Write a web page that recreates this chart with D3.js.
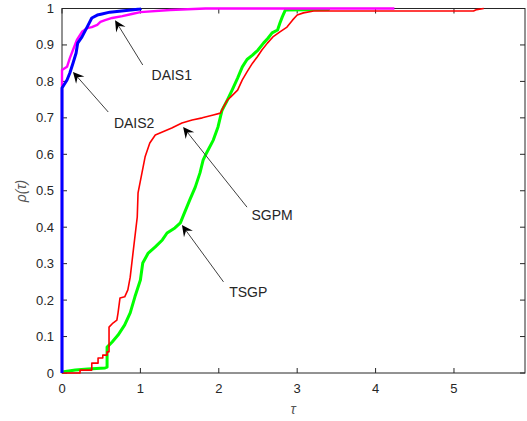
<!DOCTYPE html>
<html>
<head>
<meta charset="utf-8">
<script src="https://cdn.jsdelivr.net/npm/d3@7"></script>
<style>
  body { margin: 0; background: #fff; }
  text { font-family: "Liberation Sans", Arial, Helvetica, sans-serif; }
</style>
</head>
<body>
<svg id="chart" width="527" height="421"></svg>
<script>
// performance profiles, [tau, rho]
var dais1 = [[0,0],[0,0.831],[0.064,0.840],[0.10,0.864],[0.14,0.886],[0.19,0.914],[0.255,0.936],[0.32,0.946],[0.38,0.949],[0.45,0.955],[0.49,0.963],[0.55,0.968],[0.64,0.974],[0.77,0.979],[0.89,0.985],[1.0,0.990],[1.38,0.996],[1.83,1.0],[4.24,1.0]];
var dais2 = [[0,0],[0,0.782],[0.064,0.804],[0.10,0.823],[0.14,0.850],[0.18,0.878],[0.20,0.905],[0.255,0.922],[0.32,0.949],[0.38,0.974],[0.45,0.982],[0.51,0.985],[0.61,0.990],[1.0,0.9986],[1.01,1.0]];
var sgpm = [[0,0],[0.23,0],[0.23,0.008],[0.38,0.008],[0.38,0.027],[0.46,0.027],[0.46,0.041],[0.52,0.041],[0.52,0.049],[0.575,0.049],[0.575,0.058],[0.60,0.058],[0.60,0.126],[0.65,0.137],[0.70,0.145],[0.715,0.165],[0.74,0.206],[0.80,0.209],[0.84,0.228],[0.87,0.263],[0.91,0.337],[0.96,0.428],[0.97,0.494],[1.02,0.549],[1.06,0.593],[1.12,0.631],[1.19,0.653],[1.28,0.661],[1.40,0.672],[1.53,0.686],[1.66,0.694],[1.79,0.70],[1.93,0.708],[2.02,0.713],[2.06,0.73],[2.11,0.749],[2.15,0.757],[2.24,0.776],[2.30,0.804],[2.36,0.826],[2.43,0.85],[2.49,0.867],[2.55,0.886],[2.62,0.905],[2.69,0.922],[2.78,0.936],[2.87,0.949],[2.94,0.968],[3.00,0.982],[3.08,0.988],[3.21,0.993],[5.25,0.993],[5.29,0.997],[5.38,1.0]];
var tsgp = [[0,0.003],[0.17,0.008],[0.33,0.011],[0.55,0.014],[0.575,0.016],[0.575,0.071],[0.64,0.085],[0.715,0.104],[0.80,0.132],[0.87,0.165],[0.93,0.209],[1.0,0.255],[1.03,0.302],[1.10,0.329],[1.19,0.346],[1.28,0.365],[1.34,0.384],[1.44,0.398],[1.51,0.412],[1.55,0.433],[1.63,0.475],[1.70,0.51],[1.76,0.549],[1.80,0.584],[1.83,0.598],[1.93,0.639],[1.99,0.675],[2.04,0.72],[2.11,0.749],[2.17,0.776],[2.24,0.809],[2.30,0.84],[2.36,0.86],[2.43,0.872],[2.50,0.886],[2.57,0.905],[2.63,0.919],[2.68,0.933],[2.75,0.941],[2.78,0.96],[2.81,0.977],[2.85,0.996],[3.40,0.997],[3.40,1.0]];

var xTicks = [0, 1, 2, 3, 4, 5];
var yTicks = [0, 0.1, 0.2, 0.3, 0.4, 0.5, 0.6, 0.7, 0.8, 0.9, 1];

// annotation arrows: label, tip, tail, text position (data units)
var notes = [
  {label: "DAIS1", tip: [0.677, 0.968], tail: [1.03, 0.845], at: [1.40, 0.818]},
  {label: "DAIS2", tip: [0.14, 0.826], tail: [0.59, 0.716], at: [0.92, 0.686]},
  {label: "SGPM", tip: [1.545, 0.675], tail: [2.36, 0.455], at: [2.68, 0.433]},
  {label: "TSGP", tip: [1.53, 0.406], tail: [2.06, 0.25], at: [2.375, 0.222]}
];

var svg = d3.select("#chart");
var x = d3.scaleLinear().domain([0, 5.906]).range([62, 525]);
var y = d3.scaleLinear().domain([0, 1]).range([373, 8.5]);
var axisCol = "#262626";

// axes box
var g = svg.append("g");
g.append("rect").attr("x", x(0)).attr("y", y(1)).attr("width", x(5.906) - x(0)).attr("height", y(0) - y(1))
  .style("fill", "none").style("stroke", axisCol).style("stroke-width", 1);

// x ticks (bottom + top, inward)
xTicks.forEach(function(t){
  g.append("line").attr("x1", x(t)).attr("x2", x(t)).attr("y1", y(0)).attr("y2", y(0) - 5).style("stroke", axisCol);
  g.append("line").attr("x1", x(t)).attr("x2", x(t)).attr("y1", y(1)).attr("y2", y(1) + 5).style("stroke", axisCol);
  g.append("text").attr("x", x(t)).attr("y", y(0) + 20).attr("text-anchor", "middle")
    .style("font-size", "13px").style("fill", axisCol).text(t);
});
yTicks.forEach(function(t){
  g.append("line").attr("x1", x(0)).attr("x2", x(0) + 5).attr("y1", y(t)).attr("y2", y(t)).style("stroke", axisCol);
  g.append("line").attr("x1", x(5.906)).attr("x2", x(5.906) - 5).attr("y1", y(t)).attr("y2", y(t)).style("stroke", axisCol);
  g.append("text").attr("x", x(0) - 8).attr("y", y(t) + 4.5).attr("text-anchor", "end")
    .style("font-size", "13px").style("fill", axisCol).text(d3.format("~g")(t));
});

// axis labels
g.append("text").attr("x", 293).attr("y", 414).attr("text-anchor", "middle")
  .style("font-size", "14px").style("font-style", "italic").style("fill", "#555").text("τ");
g.append("text").attr("transform", "translate(26,191) rotate(-90)").attr("text-anchor", "middle")
  .style("font-size", "14px").style("font-style", "italic").style("fill", "#555").text("ρ(τ)");

// curves
var line = d3.line().x(function(d){ return x(d[0]); }).y(function(d){ return y(d[1]); });
var series = [
  {data: tsgp, color: "#00ff00", w: 3},
  {data: sgpm, color: "#ff0000", w: 1.6},
  {data: dais1, color: "#ff00ff", w: 2.4},
  {data: dais2, color: "#0000ff", w: 3}
];
series.forEach(function(s){
  svg.append("path").attr("d", line(s.data)).style("fill", "none")
    .style("stroke", s.color).style("stroke-width", s.w).style("stroke-linejoin", "round");
});

// arrows
notes.forEach(function(n){
  var tx = x(n.tip[0]), ty = y(n.tip[1]);
  var sx = x(n.tail[0]), sy = y(n.tail[1]);
  var a = Math.atan2(ty - sy, tx - sx);
  var L = 11, W = 5.5, N = 7;
  var ca = Math.cos(a), sa = Math.sin(a);
  svg.append("line").attr("x1", sx).attr("y1", sy).attr("x2", tx - N * ca).attr("y2", ty - N * sa)
    .style("stroke", "#404040").style("stroke-width", 1);
  var pts = [
    [tx, ty],
    [tx - L * ca + W * sa, ty - L * sa - W * ca],
    [tx - N * ca, ty - N * sa],
    [tx - L * ca - W * sa, ty - L * sa + W * ca]
  ];
  svg.append("polygon").attr("points", pts.map(function(p){ return p.join(","); }).join(" ")).style("fill", "#000");
  svg.append("text").attr("x", x(n.at[0])).attr("y", y(n.at[1]) + 5).attr("text-anchor", "middle")
    .style("font-size", "14px").style("fill", axisCol).text(n.label);
});
</script>
</body>
</html>
